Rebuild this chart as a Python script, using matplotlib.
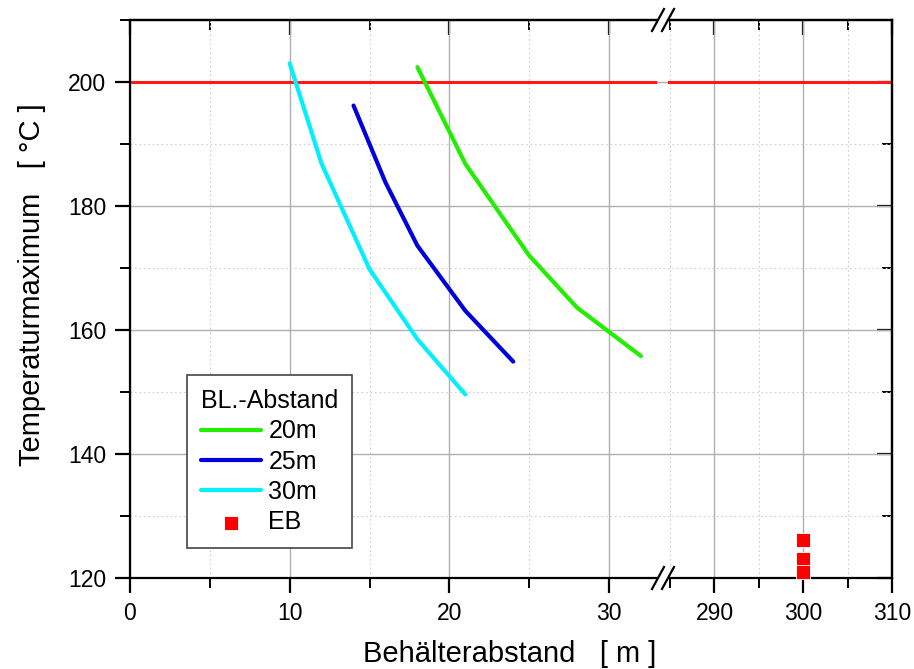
import matplotlib.pyplot as plt
from matplotlib.ticker import MultipleLocator, FixedLocator

plt.rcParams['font.family'] = ['Liberation Sans', 'DejaVu Sans']

# curves: distance [m] vs. temperature maximum [°C]
x_20m = [18, 21, 25, 28, 32]
y_20m = [202.4, 186.8, 172.0, 163.6, 155.8]
x_25m = [14, 16, 18, 21, 24]
y_25m = [196.2, 183.8, 173.6, 163.1, 154.9]
x_30m = [10, 12, 15, 18, 21]
y_30m = [203.0, 186.8, 169.8, 158.5, 149.6]
x_eb = [300, 300, 300]
y_eb = [126.2, 123.1, 120.9]
limit_temp = 200

W, H = 914, 669
fig = plt.figure(figsize=(W / 100, H / 100), dpi=100)
x0, xb, x1 = 130, 663, 892
ytop, ybot = 20, 578
ax1 = fig.add_axes([x0 / W, 1 - ybot / H, (xb - x0) / W, (ybot - ytop) / H])
ax2 = fig.add_axes([xb / W, 1 - ybot / H, (x1 - xb) / W, (ybot - ytop) / H])

ax1.set_xlim(0, 33.38)
ax2.set_xlim(284.2, 310)
for ax in (ax1, ax2):
    ax.set_ylim(120, 210)
    ax.yaxis.set_major_locator(MultipleLocator(20))
    ax.yaxis.set_minor_locator(MultipleLocator(10))
    ax.grid(True, which='major', color='#b0b0b0', lw=1.0)
    ax.grid(True, which='minor', color='#d0d0d0', lw=0.8, ls=(0, (1.5, 2.5)))
    ax.set_axisbelow(True)
    for s in ax.spines.values():
        s.set_linewidth(1.6)

ax1.xaxis.set_major_locator(FixedLocator([0, 10, 20, 30]))
ax1.xaxis.set_minor_locator(FixedLocator([5, 15, 25]))
ax2.xaxis.set_major_locator(FixedLocator([290, 300, 310]))
ax2.xaxis.set_minor_locator(FixedLocator([285, 295, 305]))

ax1.spines['right'].set_visible(False)
ax2.spines['left'].set_visible(False)

ax1.tick_params(axis='both', which='major', labelsize=16.5, length=11, width=1.6,
                direction='out', top=False, right=False)
ax1.tick_params(axis='both', which='minor', length=7, width=1.4,
                direction='out', top=False, right=False)
ax1.tick_params(axis='x', pad=6)
ax1.tick_params(axis='y', pad=6)
ax2.tick_params(axis='both', which='major', labelsize=16.5, length=11, width=1.6,
                direction='out', left=False, labelleft=False, right=False)
ax2.tick_params(axis='both', which='minor', length=7, width=1.4,
                direction='out', left=False, right=False)
ax2.tick_params(axis='x', pad=6)

# inward ticks on top and right
for ax in (ax1, ax2):
    sec = ax.secondary_xaxis('top')
    sec.set_xticks(ax.get_xticks())
    sec.xaxis.set_minor_locator(FixedLocator(ax.xaxis.get_minorticklocs()))
    sec.tick_params(which='major', direction='in', length=11, width=1.6, labeltop=False)
    sec.tick_params(which='minor', direction='in', length=7, width=1.4)
    sec.spines['top'].set_linewidth(1.6)
secy = ax2.secondary_yaxis('right')
secy.yaxis.set_major_locator(MultipleLocator(20))
secy.yaxis.set_minor_locator(MultipleLocator(10))
secy.tick_params(which='major', direction='in', length=11, width=1.6, labelright=False)
secy.tick_params(which='minor', direction='in', length=7, width=1.4)
secy.spines['right'].set_linewidth(1.6)

# limit line, broken at the axis break
ax1.axhline(limit_temp, xmax=0.985, color='#ff1a1a', lw=2.2)
ax2.axhline(limit_temp, xmin=0.026, color='#ff1a1a', lw=2.2)

ax1.plot(x_20m, y_20m, color='#22ee00', lw=3, label='20m', solid_capstyle='round')
ax1.plot(x_25m, y_25m, color='#0000dd', lw=3, label='25m', solid_capstyle='round')
ax1.plot(x_30m, y_30m, color='#00f0ff', lw=3, label='30m', solid_capstyle='round')
eb = ax2.scatter(x_eb, y_eb, marker='s', s=90, color='#ff0000', edgecolors='white',
                 linewidths=0.6, zorder=5, clip_on=False, label='EB')

# break marks
for yy in (ytop, ybot):
    fig.add_artist(plt.Line2D([(xb - 3) / W, (xb + 3) / W],
                              [1 - yy / H, 1 - yy / H], color='white', lw=3))
    for dx in (-5, 5):
        fig.add_artist(plt.Line2D([(xb + dx - 6) / W, (xb + dx + 6) / W],
                                  [1 - (yy + 11) / H, 1 - (yy - 11) / H],
                                  color='black', lw=1.6))

h, l = ax1.get_legend_handles_labels()
leg = ax1.legend(h + [eb], l + ['EB'], title='BL.-Abstand', loc='lower left',
                 bbox_to_anchor=(0.107, 0.054), fontsize=18, title_fontsize=18,
                 fancybox=False, framealpha=1, edgecolor='#444444',
                 handlelength=2.4, labelspacing=0.25, borderpad=0.55,
                 handletextpad=0.3, borderaxespad=0)
leg.get_frame().set_linewidth(1.2)
leg._legend_box.align = 'left'

fig.text(510 / W, 1 - 654 / H, 'Behälterabstand   [ m ]',
         ha='center', va='center', fontsize=21)
fig.text(32 / W, 1 - 285 / H, 'Temperaturmaximum   [ °C ]',
         rotation=90, ha='center', va='center', fontsize=21)

fig.savefig('out.png', dpi=100)
